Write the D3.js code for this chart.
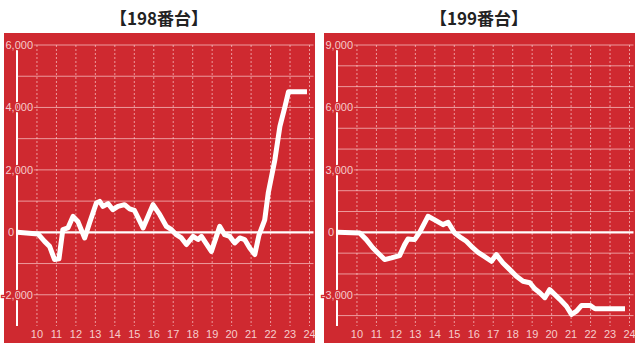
<!DOCTYPE html>
<html>
<head>
<meta charset="utf-8">
<script src="https://cdn.jsdelivr.net/npm/d3@7"></script>
<style>
  body { margin: 0; background: #fff; }
  svg { display: block; }
</style>
</head>
<body>
<svg id="chart" width="640" height="352"></svg>
<script>
// 時刻 (hour) と差枚
var hours198 = [9, 10.05, 10.39, 10.65, 10.9, 11.13, 11.33, 11.59, 11.85, 12.1, 12.45, 12.7,
    13.05, 13.22, 13.39, 13.65, 13.9, 14.16, 14.5, 14.76, 15.01, 15.45, 15.96, 16.31,
    16.65, 16.91, 17.16, 17.42, 17.68, 18.02, 18.27, 18.45, 18.79, 18.96, 19.39, 19.64,
    19.9, 20.16, 20.42, 20.67, 20.93, 21.19, 21.4, 21.7, 21.88, 22.22, 22.48, 22.74,
    22.92, 23.87];
var values198 = [0, -50, -290, -450, -870, -850, 90, 140, 510, 350, -180, 300,
    940, 990, 830, 920, 725, 830, 885, 750, 700, 140, 885, 565,
    190, 85, -75, -180, -390, -130, -230, -130, -450, -610, 190, -75,
    -130, -340, -180, -230, -500, -710, -100, 400, 1260, 2320, 3390, 4025,
    4500, 4500];

var hours199 = [9, 10.14, 10.48, 10.82, 11.42, 11.77, 12.19, 12.45, 12.62, 12.96, 13.22, 13.65,
    13.99, 14.42, 14.68, 15.02, 15.36, 15.62, 15.96, 16.22, 16.48, 16.91, 17.16, 17.5,
    17.85, 18.19, 18.53, 18.88, 19.13, 19.39, 19.65, 19.9, 20.16, 20.42, 20.76, 21.02,
    21.28, 21.54, 21.97, 22.23, 23.77];
var values199 = [0, -30, -350, -750, -1310, -1230, -1120, -590, -320, -350, 0, 770,
    600, 370, 480, -30, -270, -430, -750, -960, -1120, -1390, -1070, -1470,
    -1790, -2110, -2350, -2420, -2710, -2900, -3140, -2750, -2990, -3220, -3550, -3940,
    -3790, -3510, -3510, -3670, -3670];

var xTicks = [10, 11, 12, 13, 14, 15, 16, 17, 18, 19, 20, 21, 22, 23, 24];
var yLabels198 = [-2000, 0, 2000, 4000, 6000];
var yLabels199 = [-3000, 0, 3000, 6000, 9000];
var yGrid198 = [-2000, -1000, 1000, 2000, 3000, 4000, 5000, 6000];
var yGrid199 = [-4000, -3000, -2000, -1000, 1000, 2000, 3000, 4000, 5000, 6000, 7000, 8000, 9000];

var red = '#cf2930';
var gridColor = 'rgba(255,225,225,0.62)';
var textColor = '#f6cccc';

var svg = d3.select('#chart');
var fmt = d3.format(',');

function drawPanel(opt) {
    var px = opt.x;
    var axisX = px + 13;
    var g = svg.append('g');

    g.append('rect')
      .attr('x', px).attr('y', 33)
      .attr('width', 311).attr('height', 310)
      .attr('fill', red);

    g.append('text')
      .attr('x', px + 155).attr('y', 25)
      .attr('text-anchor', 'middle')
      .attr('font-family', '"Noto Sans CJK JP", sans-serif')
      .attr('font-weight', 'bold')
      .attr('font-size', 17)
      .attr('fill', '#222')
      .text(opt.title);

    var x = d3.scaleLinear().domain([9, 24]).range([axisX + 0.5, axisX + 292.5]);
    var y = d3.scaleLinear().domain(opt.yDomain).range([326, 45]);
    var right = x(24) + 4;

    // 縦の点線
    g.selectAll('line.vgrid')
      .data(xTicks)
      .enter()
      .append('line')
      .attr('class', 'vgrid')
      .attr('x1', function (d) { return x(d); })
      .attr('x2', function (d) { return x(d); })
      .attr('y1', y.range()[1]).attr('y2', y.range()[0])
      .attr('stroke', gridColor)
      .attr('stroke-width', 1)
      .attr('stroke-dasharray', '2,2');

    // 横の線
    g.selectAll('line.hgrid')
      .data(opt.yGrid)
      .enter()
      .append('line')
      .attr('class', 'hgrid')
      .attr('x1', axisX).attr('x2', right)
      .attr('y1', function (d) { return y(d); })
      .attr('y2', function (d) { return y(d); })
      .attr('stroke', gridColor)
      .attr('stroke-width', 1);

    // 0 の線
    g.append('line')
      .attr('x1', axisX).attr('x2', right)
      .attr('y1', y(0)).attr('y2', y(0))
      .attr('stroke', '#fff')
      .attr('stroke-width', 2.2);

    // y 軸
    g.append('line')
      .attr('x1', axisX).attr('x2', axisX)
      .attr('y1', y.range()[1] + 4).attr('y2', y.range()[0])
      .attr('stroke', '#fff')
      .attr('stroke-width', 2);

    // y ラベル
    g.selectAll('text.ylab')
      .data(opt.yLabels)
      .enter()
      .append('text')
      .attr('class', 'ylab')
      .attr('x', function (d) { return d === 0 ? axisX - 3 : axisX + 16; })
      .attr('y', function (d) { return y(d); })
      .attr('dy', '0.35em')
      .attr('text-anchor', 'end')
      .attr('font-family', '"Liberation Sans", Arial, sans-serif')
      .attr('font-size', 11)
      .attr('fill', textColor)
      .attr('stroke', red)
      .attr('stroke-width', 2.5)
      .attr('paint-order', 'stroke')
      .text(function (d) { return fmt(d).replace('−', '-'); });

    // x ラベル
    g.selectAll('text.xlab')
      .data(xTicks)
      .enter()
      .append('text')
      .attr('class', 'xlab')
      .attr('x', function (d) { return x(d); })
      .attr('y', 334)
      .attr('dy', '0.35em')
      .attr('text-anchor', 'middle')
      .attr('font-family', '"Liberation Sans", Arial, sans-serif')
      .attr('font-size', 11)
      .attr('fill', textColor)
      .text(function (d) { return d; });

    var line = d3.line()
      .x(function (d) { return x(d[0]); })
      .y(function (d) { return y(d[1]); });

    g.append('path')
      .datum(d3.zip(opt.hours, opt.values))
      .attr('d', line)
      .attr('fill', 'none')
      .attr('stroke', '#fff')
      .attr('stroke-width', 5)
      .attr('stroke-linejoin', 'round')
      .attr('stroke-linecap', 'butt');
}

drawPanel({
    x: 4, title: '【198番台】', yDomain: [-3000, 6000],
    yLabels: yLabels198, yGrid: yGrid198, hours: hours198, values: values198
});
drawPanel({
    x: 324, title: '【199番台】', yDomain: [-4500, 9000],
    yLabels: yLabels199, yGrid: yGrid199, hours: hours199, values: values199
});
</script>
</body>
</html>
